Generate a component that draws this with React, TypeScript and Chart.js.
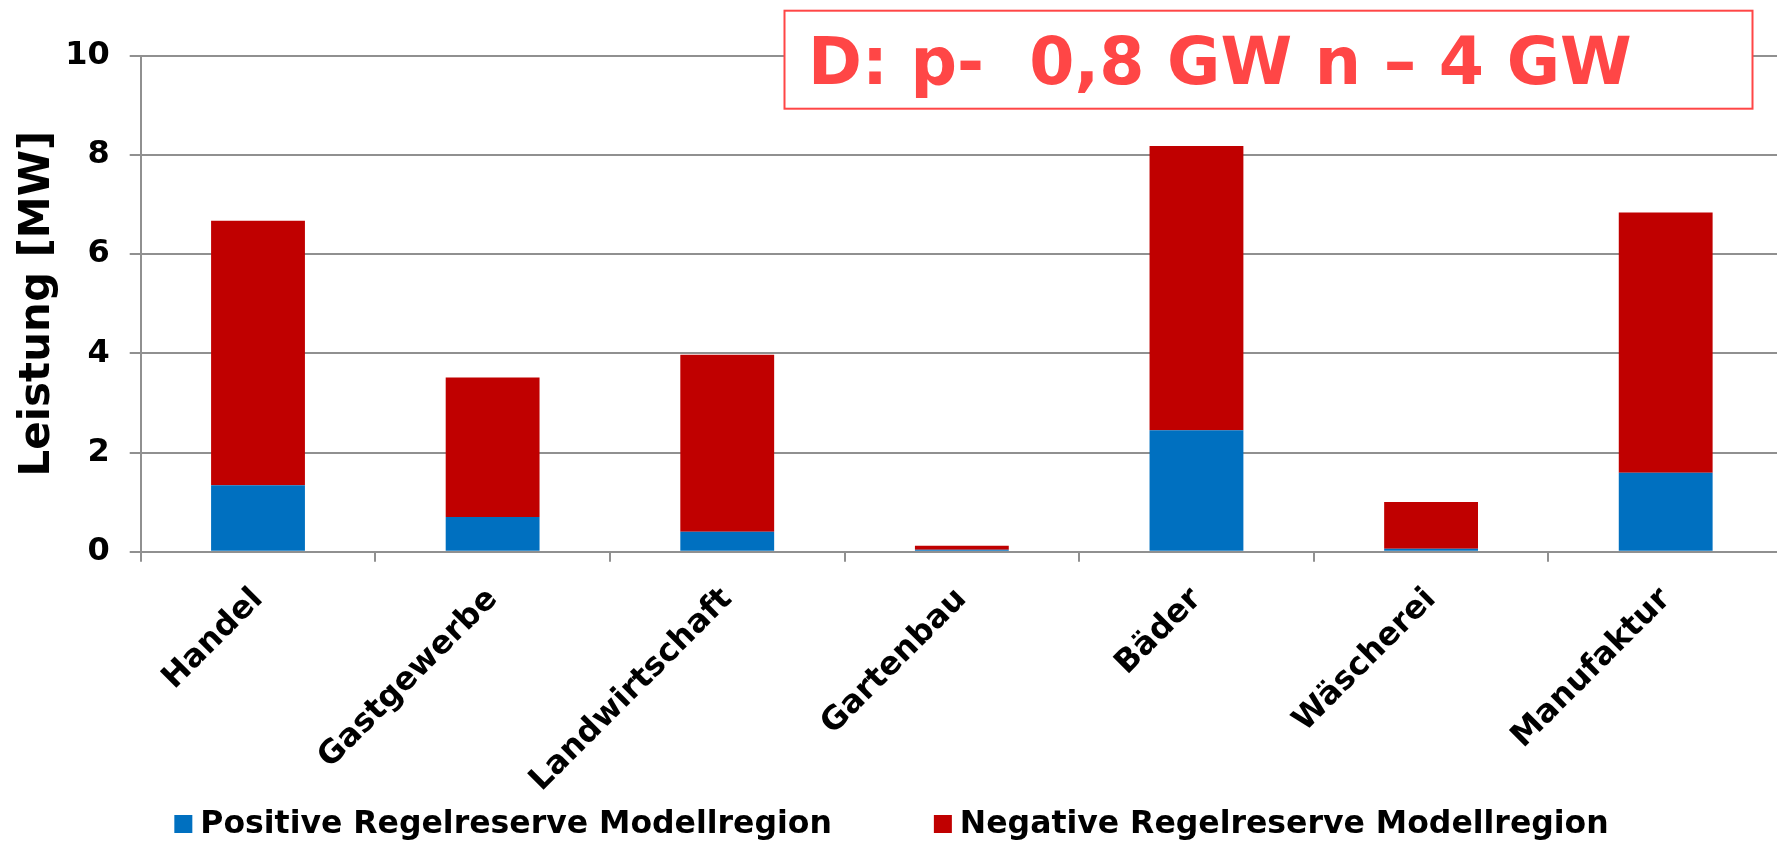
import React, { useEffect, useRef } from "react";
import { Chart, registerables } from "chart.js";

Chart.register(...registerables);

// Categories (branches) and stacked reserve values in MW
const categories = [
  "Handel",
  "Gastgewerbe",
  "Landwirtschaft",
  "Gartenbau",
  "Bäder",
  "Wäscherei",
  "Manufaktur",
];
const positiveReserve = [1.34, 0.7, 0.4, 0.04, 2.45, 0.06, 1.59];
const negativeReserve = [5.33, 2.81, 3.57, 0.08, 5.73, 0.94, 5.25];

const seriesLabels = [
  "Positive Regelreserve Modellregion",
  "Negative Regelreserve Modellregion",
];
const yTicks = [0, 2, 4, 6, 8, 10];
const yTitle = "Leistung [MW]";
const headline = "D: p-  0,8 GW n \u2013 4 GW";

const FONT = '"DejaVu Sans", Verdana, sans-serif';
const BLUE = "#0070C0";
const RED = "#C00000";
const GRID = "#909090";
const HEAD_RED = "#FF4646";

const CANVAS_W = 1783;
const CANVAS_H = 842;

// Boxed headline in the upper right corner
const headlinePlugin = {
  id: "headline",
  afterDraw(chart: any) {
    const ctx = chart.ctx;
    ctx.save();
    const x = 784.5;
    const y = 10.7;
    const w = 968;
    const h = 98;
    ctx.fillStyle = "#ffffff";
    ctx.fillRect(x, y, w, h);
    ctx.strokeStyle = HEAD_RED;
    ctx.lineWidth = 2;
    ctx.strokeRect(x, y, w, h);
    ctx.fillStyle = HEAD_RED;
    ctx.font = `bold 65px ${FONT}`;
    ctx.textAlign = "left";
    ctx.textBaseline = "alphabetic";
    ctx.fillText(headline, 808, 84.3);
    ctx.restore();
  },
};

// Legend row centred under the chart
const legendPlugin = {
  id: "bottomLegend",
  afterDraw(chart: any) {
    const ctx = chart.ctx;
    const box = 18;
    const textGap = 8;
    const itemGap = 102;
    const cy = 824;
    ctx.save();
    ctx.font = `bold 31.5px ${FONT}`;
    const items = chart.data.datasets.map((ds: any) => ({
      label: ds.label,
      color: ds.backgroundColor,
      width: box + textGap + ctx.measureText(ds.label).width,
    }));
    const total =
      items.reduce((s: number, it: any) => s + it.width, 0) +
      itemGap * (items.length - 1);
    let x = chart.width / 2 - total / 2;
    ctx.textBaseline = "middle";
    ctx.textAlign = "left";
    for (const it of items) {
      ctx.fillStyle = it.color;
      ctx.fillRect(x, cy - box / 2, box, box);
      ctx.fillStyle = "#000000";
      ctx.fillText(it.label, x + box + textGap, cy + 1);
      x += it.width + itemGap;
    }
    ctx.restore();
  },
};

export default function App() {
  const canvasRef = useRef<HTMLCanvasElement | null>(null);

  useEffect(() => {
    document.body.style.margin = "0";
    document.documentElement.style.overflow = "hidden";
    const canvas = canvasRef.current;
    if (!canvas) return;

    const chart = new Chart(canvas, {
      type: "bar",
      data: {
        labels: categories,
        datasets: [
          {
            label: seriesLabels[0],
            data: positiveReserve,
            backgroundColor: BLUE,
            borderWidth: 0,
            barPercentage: 0.4,
            categoryPercentage: 1,
          },
          {
            label: seriesLabels[1],
            data: negativeReserve,
            backgroundColor: RED,
            borderWidth: 0,
            barPercentage: 0.4,
            categoryPercentage: 1,
          },
        ],
      },
      options: {
        responsive: false,
        animation: false,
        layout: { padding: { top: 55.7, left: 0, right: 0, bottom: 0 } },
        plugins: {
          legend: { display: false },
          tooltip: { enabled: false },
        },
        scales: {
          x: {
            stacked: true,
            grid: {
              offset: true,
              drawOnChartArea: false,
              drawTicks: true,
              tickLength: 10,
              color: GRID,
              lineWidth: 2,
            },
            border: { display: true, color: GRID, width: 2 },
            ticks: {
              autoSkip: false,
              minRotation: 45,
              maxRotation: 45,
              padding: 19,
              color: "#000000",
              font: { family: FONT, size: 32, weight: "bold" },
            },
            afterFit(scale: any) {
              scale.height = CANVAS_H - 551.7;
            },
          },
          y: {
            stacked: true,
            min: 0,
            max: 10,
            afterBuildTicks(scale: any) {
              scale.ticks = yTicks.map((v) => ({ value: v }));
            },
            grid: {
              color: GRID,
              lineWidth: 2,
              drawTicks: true,
              tickLength: 11,
            },
            border: { display: true, color: GRID, width: 2 },
            ticks: {
              padding: 20,
              color: "#000000",
              font: { family: FONT, size: 32, weight: "bold" },
            },
            title: {
              display: true,
              text: yTitle,
              color: "#000000",
              font: { family: FONT, size: 42, weight: "bold", lineHeight: 1.1 },
              padding: { top: 15, bottom: 0 },
            },
            afterFit(scale: any) {
              scale.width = 140.7;
            },
          },
        },
      },
      plugins: [headlinePlugin, legendPlugin],
    });

    return () => chart.destroy();
  }, []);

  return (
    <div style={{ width: CANVAS_W, height: CANVAS_H, overflow: "hidden" }}>
      <canvas
        ref={canvasRef}
        width={CANVAS_W}
        height={CANVAS_H}
        style={{ display: "block", width: CANVAS_W, height: CANVAS_H }}
      />
    </div>
  );
}
